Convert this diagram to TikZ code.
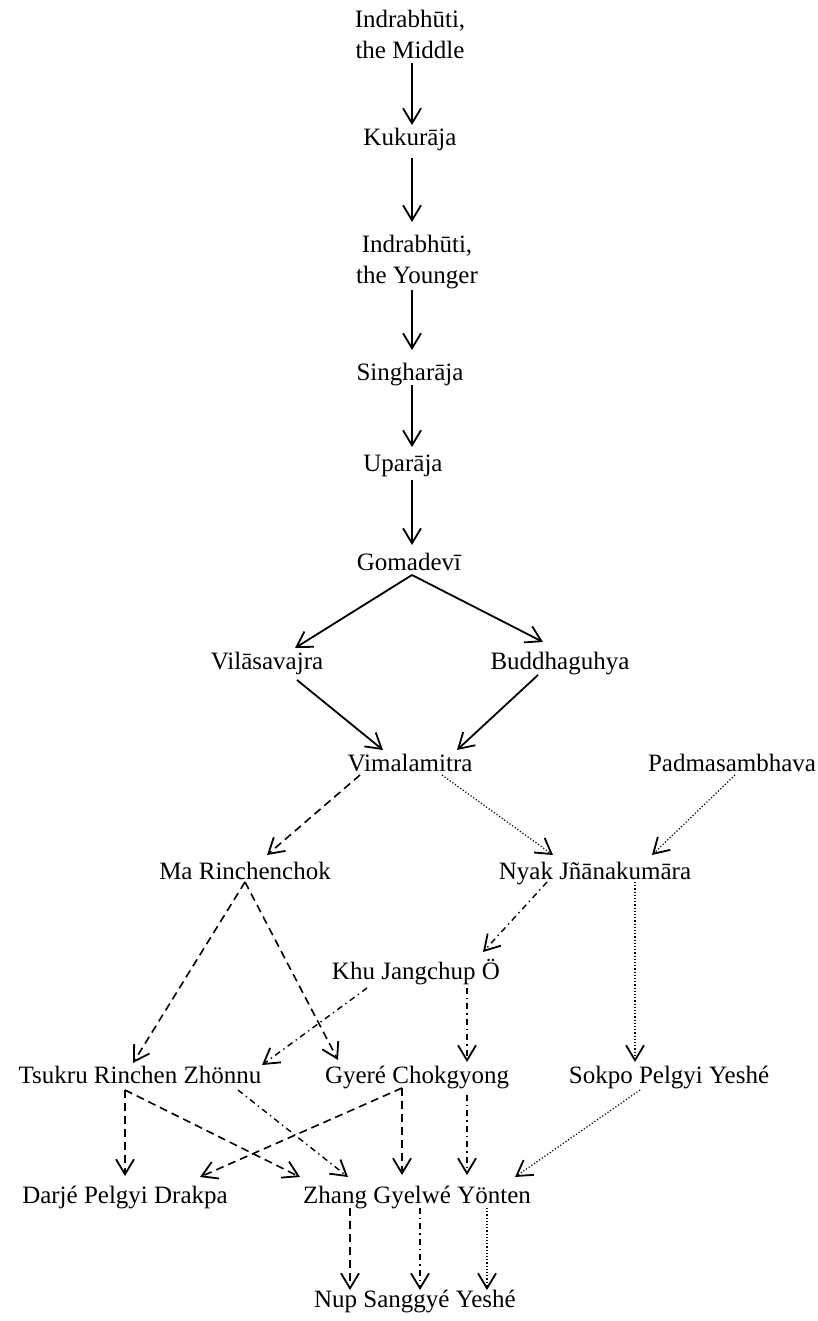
\documentclass[tikz,border=0pt]{standalone}
\usepackage{fontspec}
\setmainfont{Liberation Serif}
\usetikzlibrary{arrows.meta,calc}
\begin{document}
\begin{tikzpicture}[x=1pt,y=-1pt,
  lbl/.style={font=\fontsize{25}{30.5}\selectfont, inner sep=0pt, anchor=base},
  lbltwo/.style={font=\fontsize{25}{30.5}\selectfont, inner sep=0pt, align=center, anchor=north},
  tip/.style={-{Straight Barb[length=15pt,width=18pt,line width=1.8pt]}},
  solidl/.style={tip, line width=1.8pt},
  dashl/.style={tip, line width=1.6pt, dash pattern=on 8pt off 5pt},
  dotl/.style={tip, line width=1.2pt, dash pattern=on 1.2pt off 2pt},
  dashdotl/.style={tip, line width=1.4pt, dash pattern=on 6pt off 4pt on 1.4pt off 4pt}]
\fill[white] (0,0) rectangle (817,1321);
\useasboundingbox (0,0) rectangle (817,1321);

\node[lbltwo] (im) at (410,10) {Indrabhūti,\\the Middle};
\node[lbl] (kuk) at (410,146) {Kukurāja};
\node[lbltwo] (iy) at (417,235) {Indrabhūti,\\the Younger};
\node[lbl] (sin) at (410,380) {Singharāja};
\node[lbl] (upa) at (403,471) {Uparāja};
\node[lbl] (gom) at (409,570) {Gomadevī};
\node[lbl] (vil) at (267,669) {Vilāsavajra};
\node[lbl] (bud) at (560,669) {Buddhaguhya};
\node[lbl] (vim) at (410,771) {Vimalamitra};
\node[lbl] (pad) at (732,771) {Padmasambhava};
\node[lbl] (ma) at (245,879) {Ma Rinchenchok};
\node[lbl] (nyak) at (595,879) {Nyak Jñānakumāra};
\node[lbl] (khu) at (416,979) {Khu Jangchup Ö};
\node[lbl] (tsu) at (140,1083) {Tsukru Rinchen Zhönnu};
\node[lbl] (gye) at (417,1083) {Gyeré Chokgyong};
\node[lbl] (sok) at (669,1083) {Sokpo Pelgyi Yeshé};
\node[lbl] (dar) at (125,1203) {Darjé Pelgyi Drakpa};
\node[lbl] (zha) at (417,1203) {Zhang Gyelwé Yönten};
\node[lbl] (nup) at (415,1307) {Nup Sanggyé Yeshé};

% solid chain
\draw[solidl] ($(im.south)+(2,5)$) -- ($(kuk.base)+(2,-21)$);
\draw[solidl] ($(kuk.base)+(2,12)$) -- ($(iy.north)+(-5,-13)$);
\draw[solidl] ($(iy.south)+(-5,1)$) -- ($(sin.base)+(2,-30)$);
\draw[solidl] ($(sin.base)+(2,5)$) -- ($(upa.base)+(9,-24)$);
\draw[solidl] ($(upa.base)+(9,9)$) -- ($(gom.base)+(3,-25)$);
\draw[solidl] ($(gom.base)+(3,5)$) -- ($(vil.base)+(28,-21)$);
\draw[solidl] ($(gom.base)+(3,5)$) -- ($(bud.base)+(-17,-27)$);
\draw[solidl] ($(vil.base)+(30,11)$) -- ($(vim.base)+(-27,-21)$);
\draw[solidl] ($(bud.base)+(-22,6)$) -- ($(vim.base)+(47,-21)$);

% Vimalamitra / Padmasambhava
\draw[dashl] ($(vim.base)+(-50,4)$) -- ($(ma.base)+(22,-24)$);
\draw[dotl] ($(vim.base)+(32,4)$) -- ($(nyak.base)+(-42,-24)$);
\draw[dotl] ($(pad.base)+(3,4)$) -- ($(nyak.base)+(57,-24)$);

% Ma Rinchenchok
\draw[dashl] ($(ma.base)+(0,3)$) -- ($(tsu.base)+(-7,-20)$);
\draw[dashl] ($(ma.base)+(0,3)$) -- ($(gye.base)+(-79,-23)$);

% Nyak
\draw[dashdotl] ($(nyak.base)+(-48,3)$) -- ($(khu.base)+(67,-27)$);
\draw[dotl] ($(nyak.base)+(40,3)$) -- ($(sok.base)+(-34,-21)$);

% Khu
\draw[dashdotl] ($(khu.base)+(-49,9)$) -- ($(tsu.base)+(122,-18)$);
\draw[dashdotl] ($(khu.base)+(51,9)$) -- ($(gye.base)+(50,-21)$);

% Tsukru
\draw[dashl] ($(tsu.base)+(-15,7)$) -- ($(dar.base)+(0,-27)$);
\draw[dashl] ($(tsu.base)+(-15,7)$) -- ($(zha.base)+(-117,-26)$);
\draw[dashdotl] ($(tsu.base)+(98,7)$) -- ($(zha.base)+(-69,-26)$);

% Gyere
\draw[dashl] ($(gye.base)+(-15,5)$) -- ($(dar.base)+(75,-26)$);
\draw[dashl] ($(gye.base)+(-15,5)$) -- ($(zha.base)+(-15,-28)$);
\draw[dashdotl] ($(gye.base)+(50,12)$) -- ($(zha.base)+(50,-28)$);

% Sokpo
\draw[dotl] ($(sok.base)+(-29,7)$) -- ($(zha.base)+(98,-26)$);

% Zhang
\draw[dashl] ($(zha.base)+(-67,5)$) -- ($(nup.base)+(-65,-17)$);
\draw[dashdotl] ($(zha.base)+(3,5)$) -- ($(nup.base)+(5,-17)$);
\draw[dotl] ($(zha.base)+(70,5)$) -- ($(nup.base)+(72,-17)$);
\end{tikzpicture}
\end{document}
